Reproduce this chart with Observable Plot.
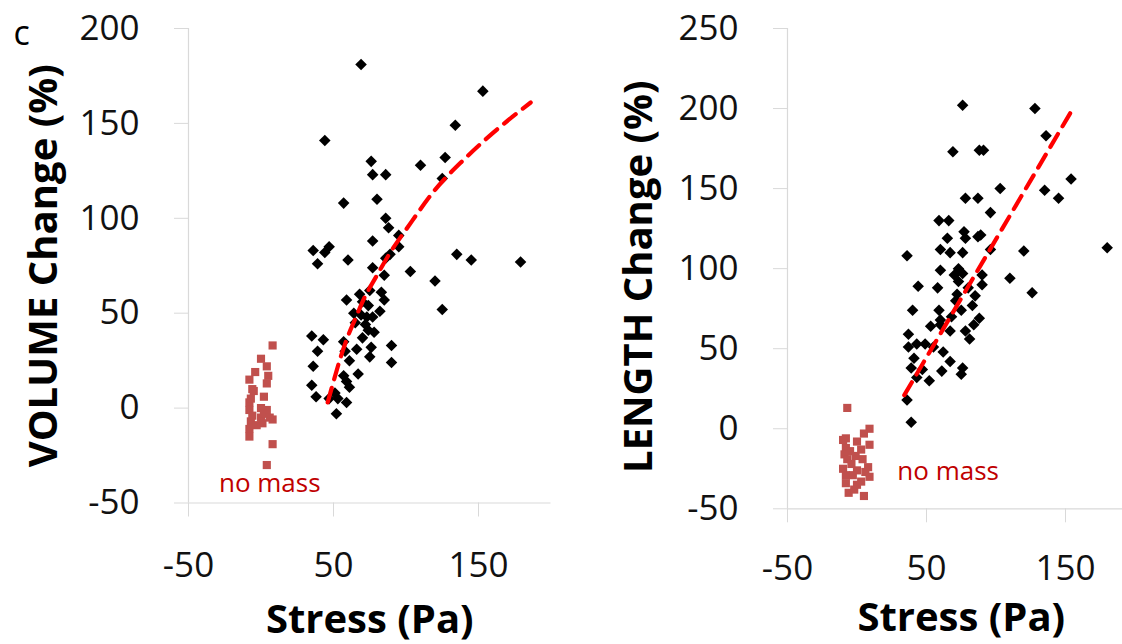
<!DOCTYPE html>
<html><head><meta charset="utf-8">
<script src="https://cdn.jsdelivr.net/npm/d3@7"></script>
<script src="https://cdn.jsdelivr.net/npm/@observablehq/plot@0.6"></script>
<style>
html,body{margin:0;padding:0;background:#fff;}
#wrap{position:relative;width:1122px;height:644px;overflow:hidden;background:#fff;}
#left{position:absolute;left:0;top:0;width:561px;height:644px;}
#right{position:absolute;left:561px;top:0;width:574px;height:644px;}
#wrap svg{max-width:none !important;display:block;}
</style></head>
<body><div id="wrap"><div id="left"></div><div id="right"></div></div>
<script>
// ---- tick labels ----
const xTicks = [-50, 50, 150];
const volTicks = [-50, 0, 50, 100, 150, 200];
const lenTicks = [-50, 0, 50, 100, 150, 200, 250];

// ---- VOLUME panel: [stress (Pa), volume change (%)] ----
const volMass = [[69,181],[153,167],[134,149],[44,141],[76,130],[77,123],[86,123],[110,128],[127,132],[125,121],
 [57,108],[80,110],[86,100],[88,95],[77,88],[95,91],[95,85],[89,81],[86,79],[36,83],[44,82],[47,85],[39,76],
 [60,78],[135,81],[145,78],[179,77],[77,74],[85,70],[103,72],[120,67],[125,52],[59,57],[75,62],[83,61],[85,57],
 [70,56],[74,54],[82,51],[64,50],[73,48],[77,48],[65,45],[74,41],[35,38],[43,36],[70,37],[69,49],[57,35],
 [39,30],[58,30],[66,31],[76,32],[90,33],[75,27],[61,25],[90,24],[36,22],[67,18],[57,17],[59,14],[61,11],
 [35,12],[38,6],[51,8],[53,5],[59,3],[47,5],[52,-3],[72,44],[78,40],[68,60]];
const volNoMass = [[8,33],[0,26],[4,22],[-4,19],[5,17],[-8,15],[4,13],[-6,10],[-5,9],[2,6],[-8,3],[0,0],[4,-1],
 [-8,-1],[0,-5],[8,-6],[-7,-7],[1,-8],[-8,-11],[-8,-15],[8,-19],[4,-30],[-7,5],[2,-3],[-6,-4],[-3,-9],[6,-5]];
const volFit = [[46,3],[50,14],[55,27],[60,38],[65,47],[70,56],[80,70],[90,83],[100,94],[120,115],[140,131],[160,145],[186,161]];
const volLabel = [{x:-29, y:-40, text:"no mass"}];

// ---- LENGTH panel: [stress (Pa), length change (%)] ----
const lenMass = [[76,202],[128,200],[136,183],[69,173],[88,174],[91,174],[154,156],[135,149],[145,144],[103,150],
 [78,144],[87,144],[96,135],[59,130],[66,130],[77,123],[89,121],[65,119],[78,119],[87,120],[36,108],[60,112],
 [67,110],[76,110],[96,112],[120,111],[180,113],[60,99],[73,100],[76,97],[70,96],[90,96],[110,94],[44,89],
 [58,88],[90,90],[126,85],[72,84],[85,83],[40,74],[59,74],[71,80],[75,74],[83,77],[53,64],[60,68],[67,61],
 [78,61],[84,65],[88,69],[37,59],[60,65],[81,56],[37,51],[43,53],[49,53],[55,51],[62,48],[41,44],[67,42],
 [39,38],[47,37],[61,36],[76,38],[75,34],[43,32],[52,30],[36,18],[39,4],[73,92],[68,70],[80,88]];
const lenNoMass = [[-7,13],[9,0],[5,-3],[-8,-6],[0,-8],[9,-10],[-8,-12],[3,-13],[-9,-16],[-1,-17],[-7,-19],[4,-19],
 [-4,-22],[8,-24],[-10,-25],[0,-26],[9,-30],[-3,-29],[3,-33],[-8,-34],[0,-35],[-6,-40],[5,-42],[-10,-7],[-5,-14],
 [6,-27],[-8,-29],[-2,-38]];
const lenFit = [[34,21],[154,198]];
const lenLabel = [{x:29, y:-27, text:"no mass"}];

const FONT = "'Open Sans', 'DejaVu Sans', sans-serif";
const AX = "#d9d9d9";

function panel(o) {
  return Plot.plot({
    width: o.width, height: 644,
    marginLeft: o.ml, marginRight: o.mr, marginTop: o.mt, marginBottom: o.mb,
    x: {domain: [-50, 200]},
    y: {domain: o.ydom},
    style: {fontFamily: FONT, background: "white", overflow: "visible"},
    marks: [
      Plot.ruleY([-50], {stroke: AX, strokeWidth: 1.2}),
      Plot.ruleX([-50], {stroke: AX, strokeWidth: 1.2}),
      Plot.axisX({ticks: xTicks, tickSize: 14, tickPadding: o.xpad, stroke: AX, fill: "#111",
        fontSize: 35, label: null, tickFormat: d => String(d)}),
      Plot.axisY({ticks: o.yticks, tickSize: 14, tickPadding: 35, stroke: AX, fill: "#111",
        fontSize: 35, label: null, tickFormat: d => String(d)}),
      Plot.dot(o.noMass, {x: d => d[0], y: d => d[1], symbol: "square", r: 4.6, fill: "#c0504d"}),
      Plot.dot(o.mass, {x: d => d[0], y: d => d[1], symbol: "diamond2", r: 5.2, fill: "black"}),
      Plot.line(o.fit, {x: d => d[0], y: d => d[1], stroke: "#ff0000", strokeWidth: 4.2,
        strokeDasharray: "15,9", curve: "monotone-x"}),
      Plot.text(o.label, {x: "x", y: "y", text: "text", textAnchor: "start", fontSize: 26, fill: "#c00000"}),
      Plot.text([o.ytitle], {frameAnchor: "left", textAnchor: "middle", lineAnchor: "middle", rotate: -90,
        dx: o.ytdx, dy: o.ytdy, fontSize: 40, fontWeight: "bold", fill: "black"}),
      Plot.text(["Stress (Pa)"], {frameAnchor: "bottom", textAnchor: "middle", lineAnchor: "middle", dy: o.xtdy,
        fontSize: 40, fontWeight: "bold", fill: "black"}),
      ...(o.letter ? [Plot.text([o.letter], {frameAnchor: "top-left", textAnchor: "start", lineAnchor: "middle",
        dx: -175, dy: 6, fontSize: 34, fill: "black"})] : [])
    ]
  });
}

document.getElementById("left").append(panel({
  width: 561, ml: 188, mr: 10.5, mt: 28, mb: 141.5,
  ydom: [-50, 200], yticks: volTicks, mass: volMass, noMass: volNoMass, fit: volFit, label: volLabel,
  ytitle: "VOLUME Change (%)", ytdx: -144, ytdy: 0, xtdy: 117, xpad: 35, letter: "c"
}));
document.getElementById("right").append(panel({
  width: 574, ml: 226, mr: 0.5, mt: 28, mb: 135.7,
  ydom: [-50, 250], yticks: lenTicks, mass: lenMass, noMass: lenNoMass, fit: lenFit, label: lenLabel,
  ytitle: "LENGTH Change (%)", ytdx: -148, ytdy: 8, xtdy: 109, xpad: 32, letter: null
}));
</script>
</body></html>
